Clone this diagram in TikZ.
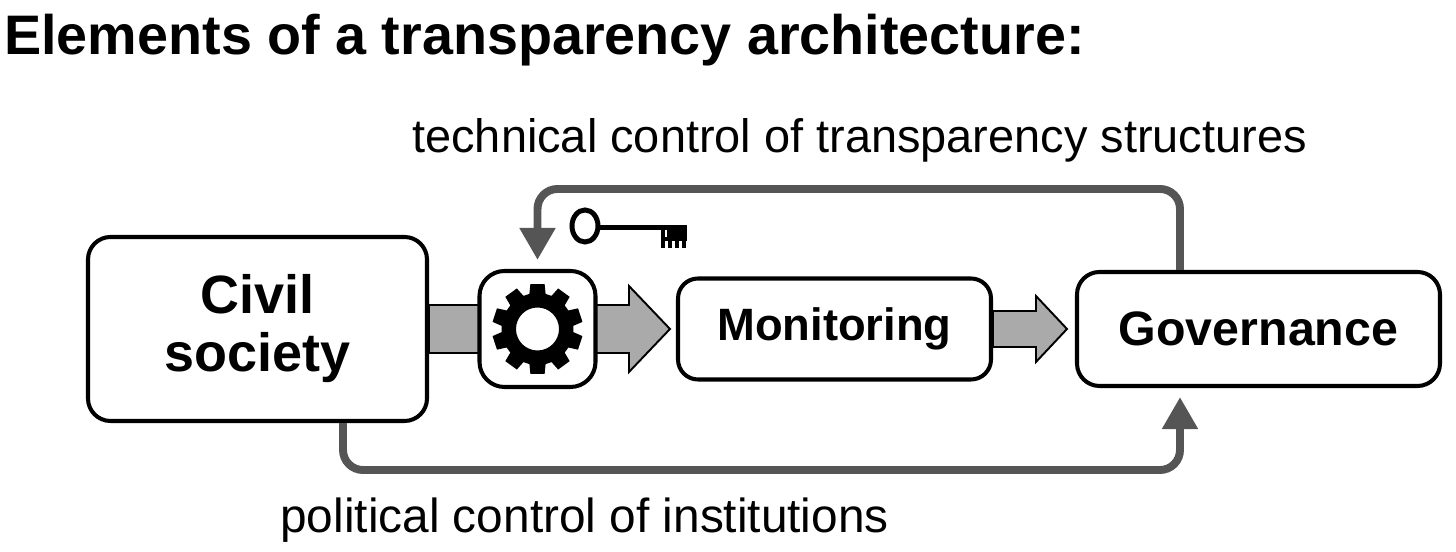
\documentclass[tikz,border=0pt]{standalone}
\usepackage{fontspec}
\setmainfont{Liberation Sans}
\usetikzlibrary{arrows.meta,backgrounds}
\definecolor{arrowgray}{HTML}{AAAAAA}
\definecolor{linkgray}{HTML}{555555}
\tikzset{
  stage/.style={draw, line width=2.3pt, rounded corners=0.45cm, fill=white, inner sep=0pt},
  blockarrow/.style={draw, line width=1.1pt, fill=arrowgray, line join=miter},
  control/.style={draw=linkgray, line width=4.5pt, rounded corners=0.4cm, -{Triangle[length=0.64cm,width=0.68cm]}},
  caption/.style={inner sep=0pt, anchor=base west, font=\fontsize{26.7}{30}\selectfont},
}
\begin{document}
\begin{tikzpicture}
    \useasboundingbox (0,0) rectangle (29.12,11.04);
    \node[inner sep=0pt, anchor=base west, font=\bfseries\fontsize{31.7}{36}\selectfont] (title) at (0.08,9.94) {Elements of a transparency architecture:};

    \node[stage, minimum width=6.78cm, minimum height=3.68cm, align=center, font=\bfseries\fontsize{30.7}{33}\selectfont] (civil) at (5.15,4.46) {Civil\\society};
    \node[stage, minimum size=2.32cm, rounded corners=0.5cm] (gear) at (10.75,4.46) {};
    \node[stage, minimum width=6.26cm, minimum height=2.02cm, rounded corners=0.4cm, font=\bfseries\fontsize{25.8}{30}\selectfont] (monitor) at (16.69,4.46) {Monitoring};
    \node[stage, minimum width=7.26cm, minimum height=2.28cm, font=\bfseries\fontsize{27.5}{32}\selectfont] (governance) at (25.17,4.46) {Governance};

    \begin{scope}[on background layer]
    \draw[blockarrow] ([yshift=4.8mm]civil.east) -- ([xshift=-9.4mm,yshift=4.8mm]monitor.west) -- ([xshift=-9.4mm,yshift=8.6mm]monitor.west) -- ([xshift=-1.2mm]monitor.west) -- ([xshift=-9.4mm,yshift=-8.6mm]monitor.west) -- ([xshift=-9.4mm,yshift=-4.8mm]monitor.west) -- ([yshift=-4.8mm]civil.east) -- cycle;
    \draw[blockarrow] ([yshift=3.6mm]monitor.east) -- ([xshift=-7.8mm,yshift=3.6mm]governance.west) -- ([xshift=-7.8mm,yshift=6.6mm]governance.west) -- ([xshift=-1.6mm]governance.west) -- ([xshift=-7.8mm,yshift=-6.6mm]governance.west) -- ([xshift=-7.8mm,yshift=-3.6mm]governance.west) -- ([yshift=-3.6mm]monitor.east) -- cycle;
    \end{scope}

    % gear
    \fill[even odd rule, shift={(gear.center)}] (77:0.72) \foreach \a in {90,126,...,414} { -- (\a-13:0.72) -- (\a-9:0.91) -- (\a+9:0.91) -- (\a+13:0.72) } -- cycle (0,0) circle (0.43);

    % key
    \draw[line width=0.1cm] (11.70,6.52) ellipse [x radius=0.26, y radius=0.32];
    \fill (11.96,6.43) rectangle (13.74,6.54);
    \fill (13.22,6.22) rectangle (13.74,6.54);
    \foreach \x in {13.22,13.36,13.50,13.64} \fill (\x,6.07) rectangle ++(0.08,0.16);
    \fill[white] (13.29,6.30) rectangle (13.34,6.43);

    \draw[control] ([xshift=-1.57cm]governance.north) -- ++(0,1.62) -| ([yshift=1.8mm]gear.north);
    \draw[control] ([xshift=1.71cm]civil.south) -- ++(0,-0.94) -| ([xshift=-1.57cm,yshift=-1.8mm]governance.south);

    \node[caption] (techlabel) at (8.24,7.98) {technical control of transparency structures};
    \node[caption, font=\fontsize{27.2}{30}\selectfont] (pollabel) at (5.6,0.38) {political control of institutions};
\end{tikzpicture}
\end{document}
